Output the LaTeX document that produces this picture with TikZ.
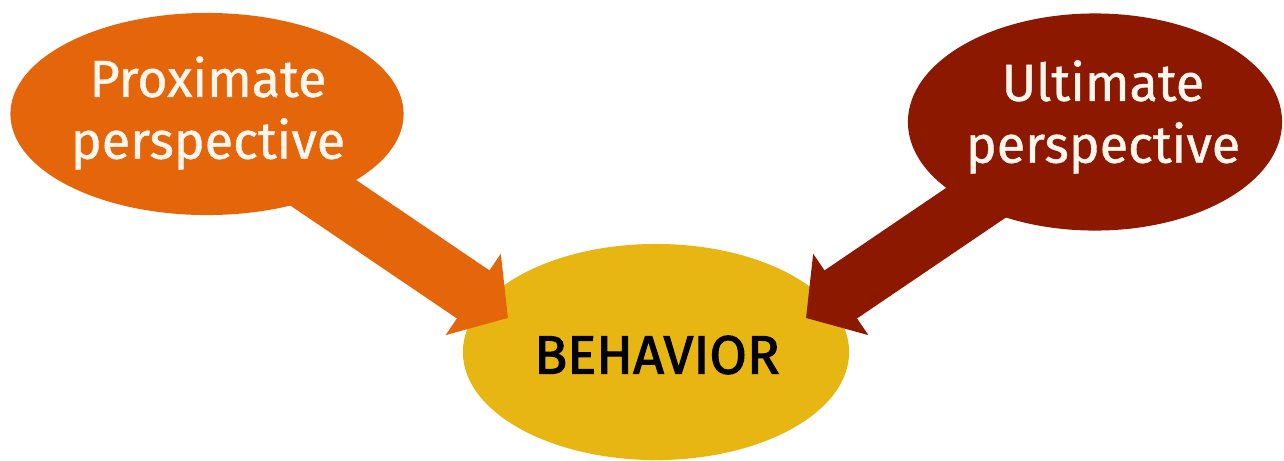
\documentclass[tikz,border=0pt]{standalone}
\usepackage{fontspec}
\setmainfont{Fira Sans}[FakeBold=0.8]
\newfontfamily\behfont{Fira Sans}[FakeBold=2]
\usepackage{color}
\usepackage{tikz}
\usetikzlibrary{shapes.geometric,arrows.meta}

\definecolor{proxorange}{RGB}{228,101,10}
\definecolor{ultred}{RGB}{140,24,0}
\definecolor{behyellow}{RGB}{232,182,18}
\definecolor{capwhite}{RGB}{255,246,238}

\tikzset{
  blob/.style={ellipse, inner sep=0pt},
  blobtext/.style={text=capwhite, align=center, font=\fontsize{14.8}{17.6}\selectfont},
  bigarrow/.style={line width=0.58cm, -{Triangle[length=0.42cm,width=0.96cm]}}
}

\begin{document}
\begin{tikzpicture}[x=0.01cm,y=-0.01cm]
\useasboundingbox (0,0) rectangle (1284,460);

\node[blob, fill=behyellow, minimum width=3.86cm, minimum height=2.16cm](beh) at (656,352) {};
\node[blob, fill=proxorange, minimum width=3.93cm, minimum height=2.02cm](prox) at (207,114) {};
\node[blob, fill=ultred, minimum width=3.74cm, minimum height=2.17cm](ult) at (1095,122) {};

\coordinate (beh_l) at (508,318);
\coordinate (beh_r) at (806,318);
\draw[bigarrow, proxorange](prox.center) -- (beh_l);
\draw[bigarrow, ultred](ult.center) -- (beh_r);

\node[blobtext](prox_txt) at (208,113) {Proximate\\perspective};
\node[blobtext](ult_txt) at (1103,117) {Ultimate\\perspective};
\node[font=\behfont\fontsize{15.4}{18}\selectfont](beh_txt) at (657,355) {BEHAVIOR};
\end{tikzpicture}
\end{document}
